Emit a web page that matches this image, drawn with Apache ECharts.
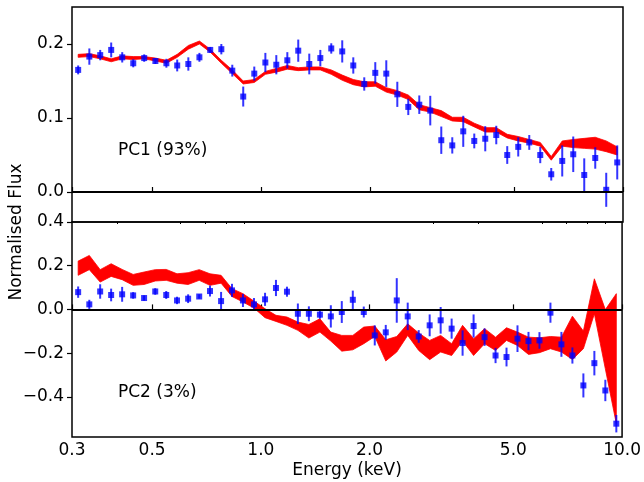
<!DOCTYPE html>
<html>
<head>
<meta charset="utf-8">
<script src="https://cdn.jsdelivr.net/npm/echarts@6/dist/echarts.min.js"></script>
<style>
  html, body { margin: 0; padding: 0; background: #fff; }
  #chart { width: 644px; height: 482px; }
</style>
</head>
<body>
<div id="chart"></div>
<script>
// energy bins (keV)
const energy = [0.312, 0.335, 0.359, 0.385, 0.413, 0.443, 0.475, 0.510, 0.547, 0.586,
  0.629, 0.675, 0.723, 0.776, 0.832, 0.892, 0.957, 1.027, 1.101, 1.181,
  1.266, 1.358, 1.457, 1.562, 1.675, 1.797, 1.927, 2.067, 2.217, 2.378,
  2.550, 2.735, 2.933, 3.146, 3.374, 3.618, 3.881, 4.162, 4.464, 4.787,
  5.134, 5.507, 5.906, 6.334, 6.793, 7.286, 7.814, 8.381, 8.988, 9.640];

// PC1 data points and errors
const pc1 = [0.165, 0.183, 0.185, 0.192, 0.182, 0.174, 0.181, 0.177, 0.174, 0.171,
  0.173, 0.182, 0.192, 0.193, 0.164, 0.129, 0.160, 0.175, 0.172, 0.178,
  0.191, 0.173, 0.181, 0.194, 0.190, 0.171, 0.146, 0.161, 0.160, 0.132,
  0.115, 0.118, 0.110, 0.070, 0.063, 0.082, 0.069, 0.072, 0.077, 0.050,
  0.061, 0.067, 0.050, 0.024, 0.042, 0.051, 0.023, 0.046, 0.003, 0.040];
const pc1Err = [0.006, 0.011, 0.007, 0.010, 0.007, 0.0055, 0.005, 0.004, 0.006, 0.008,
  0.009, 0.006, 0.004, 0.007, 0.008, 0.0135, 0.0095, 0.013, 0.013, 0.011,
  0.015, 0.014, 0.011, 0.007, 0.015, 0.011, 0.009, 0.0145, 0.018, 0.017,
  0.011, 0.0125, 0.020, 0.0185, 0.011, 0.021, 0.010, 0.017, 0.0125, 0.012,
  0.013, 0.010, 0.011, 0.0085, 0.021, 0.024, 0.0225, 0.0145, 0.023, 0.023];
// PC1 model band
const pc1Lo = [0.182, 0.183, 0.180, 0.176, 0.180, 0.179, 0.180, 0.177, 0.174, 0.182,
  0.193, 0.200, 0.189, 0.174, 0.160, 0.146, 0.148, 0.159, 0.162, 0.166,
  0.164, 0.165, 0.165, 0.159, 0.151, 0.145, 0.142, 0.143, 0.135, 0.131,
  0.125, 0.111, 0.108, 0.102, 0.096, 0.095, 0.088, 0.081, 0.081, 0.073,
  0.069, 0.066, 0.062, 0.043, 0.062, 0.060, 0.059, 0.058, 0.0545, 0.050];
const pc1Hi = [0.186, 0.187, 0.184, 0.180, 0.184, 0.183, 0.183, 0.181, 0.178, 0.186,
  0.198, 0.204, 0.193, 0.178, 0.165, 0.150, 0.152, 0.163, 0.167, 0.171,
  0.168, 0.169, 0.169, 0.165, 0.158, 0.152, 0.149, 0.149, 0.141, 0.137,
  0.131, 0.118, 0.114, 0.110, 0.101, 0.101, 0.093, 0.087, 0.087, 0.078,
  0.075, 0.071, 0.067, 0.048, 0.069, 0.071, 0.0725, 0.074, 0.069, 0.061];

// PC2 data points and errors
const pc2 = [0.079, 0.023, 0.082, 0.066, 0.069, 0.064, 0.052, 0.082, 0.066, 0.041,
  0.049, 0.059, 0.084, 0.038, 0.087, 0.041, 0.023, 0.046, 0.098, 0.081,
  -0.020, -0.020, -0.024, -0.032, -0.012, 0.044, -0.012, -0.119, -0.105, 0.041,
  -0.032, -0.124, -0.073, -0.050, -0.088, -0.154, -0.076, -0.127, -0.211, -0.218,
  -0.134, -0.145, -0.142, -0.015, -0.160, -0.211, -0.348, -0.246, -0.371, -0.523];
const pc2Err = [0.026, 0.021, 0.033, 0.029, 0.034, 0.015, 0.012, 0.015, 0.018, 0.017,
  0.020, 0.010, 0.025, 0.042, 0.030, 0.030, 0.029, 0.030, 0.037, 0.023,
  0.047, 0.034, 0.019, 0.051, 0.050, 0.042, 0.025, 0.046, 0.034, 0.102,
  0.063, 0.029, 0.050, 0.061, 0.046, 0.058, 0.053, 0.040, 0.035, 0.043,
  0.061, 0.042, 0.038, 0.046, 0.057, 0.037, 0.055, 0.056, 0.049, 0.040];
// PC2 model band
const pc2Lo = [0.156, 0.182, 0.125, 0.151, 0.136, 0.110, 0.114, 0.130, 0.133, 0.120,
  0.114, 0.133, 0.110, 0.120, 0.059, 0.034, 0.006, -0.038, -0.055, -0.073,
  -0.096, -0.131, -0.104, -0.145, -0.191, -0.185, -0.157, -0.124, -0.236, -0.195,
  -0.119, -0.188, -0.230, -0.195, -0.211, -0.145, -0.211, -0.157, -0.188, -0.142,
  -0.165, -0.206, -0.198, -0.180, -0.195, -0.229, -0.180, -0.020, -0.272, -0.523];
const pc2Hi = [0.221, 0.247, 0.182, 0.209, 0.183, 0.160, 0.171, 0.182, 0.183, 0.163,
  0.168, 0.182, 0.163, 0.156, 0.095, 0.072, 0.038, 0.003, -0.027, -0.035,
  -0.058, -0.069, -0.043, -0.104, -0.119, -0.119, -0.081, -0.076, -0.139, -0.124,
  -0.066, -0.108, -0.142, -0.119, -0.157, -0.073, -0.134, -0.088, -0.127, -0.084,
  -0.104, -0.127, -0.130, -0.124, -0.127, -0.031, -0.099, 0.140, -0.001, 0.072];

// tick positions
const xMajor = [0.3, 0.5, 1, 2, 5, 10];
const xMinor = [0.4, 0.6, 0.7, 0.8, 0.9, 3, 4, 6, 7, 8, 9];
const pc1Ticks = [0, 0.1, 0.2];
const pc2Ticks = [-0.4, -0.2, 0, 0.2, 0.4];

const FONT = '"DejaVu Sans", sans-serif';
const fmtY = v => (Math.abs(v) < 1e-9 ? '0.0' : v.toFixed(1).replace('-', '\u2212'));

// red model band as one polygon
function bandItem(lo, hi) {
  return function (params, api) {
    if (params.dataIndex !== 0) return null;
    const pts = [];
    for (let i = 0; i < energy.length; i++) pts.push(api.coord([energy[i], hi[i]]));
    for (let i = energy.length - 1; i >= 0; i--) pts.push(api.coord([energy[i], lo[i]]));
    return { type: 'polygon', shape: { points: pts },
      style: { fill: '#ff0000', stroke: '#ff0000', lineWidth: 0.8 } };
  };
}

// vertical error bars
function errItem(params, api) {
  const x = api.value(0), y = api.value(1), e = api.value(2);
  const a = api.coord([x, y - e]), b = api.coord([x, y + e]);
  return { type: 'line', shape: { x1: a[0], y1: a[1], x2: b[0], y2: b[1] },
    style: { stroke: 'rgba(0,0,255,0.8)', lineWidth: 2 } };
}

const zeroLine = {
  silent: true, symbol: 'none', label: { show: false },
  lineStyle: { color: '#000', width: 2, type: 'solid' },
  data: [{ yAxis: 0 }]
};

function xAxisFor(grid, withLabels) {
  return {
    type: 'log', logBase: 10, gridIndex: grid, min: 0.3, max: 10,
    axisLine: { show: false },
    splitLine: { show: false },
    axisTick: { show: true, inside: true, length: 5, customValues: xMajor,
      lineStyle: { color: '#000', width: 1.2 } },
    axisLabel: { show: withLabels, customValues: xMajor, margin: 5,
      formatter: v => v.toFixed(1), color: '#000', fontSize: 17, fontFamily: FONT },
    name: withLabels ? 'Energy (keV)' : '',
    nameLocation: 'middle', nameGap: 25,
    nameTextStyle: { color: '#000', fontSize: 17, fontFamily: FONT }
  };
}

function yAxisFor(grid, min, max, ticks) {
  return {
    type: 'value', gridIndex: grid, min: min, max: max,
    axisLine: { show: false },
    splitLine: { show: false },
    axisTick: { show: true, inside: false, length: 5, customValues: ticks,
      lineStyle: { color: '#000', width: 1.2 } },
    axisLabel: { customValues: ticks, margin: 8, formatter: fmtY,
      color: '#000', fontSize: 17, fontFamily: FONT }
  };
}

const chart = echarts.init(document.getElementById('chart'));
chart.setOption({
  animation: false,
  backgroundColor: '#fff',
  grid: [
    { left: 72, right: 21, top: 7, height: 215, show: true, borderColor: '#000', borderWidth: 1.5 },
    { left: 72, right: 21, top: 222, height: 215, show: true, borderColor: '#000', borderWidth: 1.5 }
  ],
  xAxis: [
    xAxisFor(0, false),
    xAxisFor(1, true),
    {
      type: 'log', logBase: 10, gridIndex: 1, min: 0.3, max: 10,
      axisLine: { show: false }, splitLine: { show: false }, axisLabel: { show: false },
      axisTick: { show: true, inside: true, length: 2, customValues: xMinor,
        lineStyle: { color: '#000', width: 1 } }
    }
  ],
  yAxis: [
    yAxisFor(0, -0.0405, 0.25, pc1Ticks),
    yAxisFor(1, -0.584, 0.4, pc2Ticks)
  ],
  graphic: [
    { type: 'text', left: 118, top: 142,
      style: { text: 'PC1 (93%)', font: '17px ' + FONT, fill: '#000' } },
    { type: 'text', left: 118, top: 384,
      style: { text: 'PC2 (3%)', font: '17px ' + FONT, fill: '#000' } },
    { type: 'text', x: 17, y: 232, rotation: Math.PI / 2,
      style: { text: 'Normalised Flux', font: '17px ' + FONT, fill: '#000',
        align: 'center', verticalAlign: 'middle' } }
  ],
  series: [
    {
      type: 'custom', xAxisIndex: 0, yAxisIndex: 0, z: 2,
      data: energy.map((e, i) => [e, pc1Lo[i], pc1Hi[i]]),
      encode: { x: 0, y: [1, 2] },
      renderItem: bandItem(pc1Lo, pc1Hi)
    },
    {
      type: 'custom', xAxisIndex: 0, yAxisIndex: 0, z: 3,
      data: energy.map((e, i) => [e, pc1[i], pc1Err[i]]),
      encode: { x: 0, y: 1 },
      renderItem: errItem,
      markLine: zeroLine
    },
    {
      type: 'scatter', xAxisIndex: 0, yAxisIndex: 0, z: 4,
      symbol: 'rect', symbolSize: 6,
      itemStyle: { color: '#0000ff' },
      data: energy.map((e, i) => [e, pc1[i]])
    },
    {
      type: 'custom', xAxisIndex: 1, yAxisIndex: 1, z: 2,
      data: energy.map((e, i) => [e, pc2Lo[i], pc2Hi[i]]),
      encode: { x: 0, y: [1, 2] },
      renderItem: bandItem(pc2Lo, pc2Hi)
    },
    {
      type: 'custom', xAxisIndex: 1, yAxisIndex: 1, z: 3,
      data: energy.map((e, i) => [e, pc2[i], pc2Err[i]]),
      encode: { x: 0, y: 1 },
      renderItem: errItem,
      markLine: zeroLine
    },
    {
      type: 'scatter', xAxisIndex: 1, yAxisIndex: 1, z: 4,
      symbol: 'rect', symbolSize: 6,
      itemStyle: { color: '#0000ff' },
      data: energy.map((e, i) => [e, pc2[i]])
    }
  ]
});
</script>
</body>
</html>
